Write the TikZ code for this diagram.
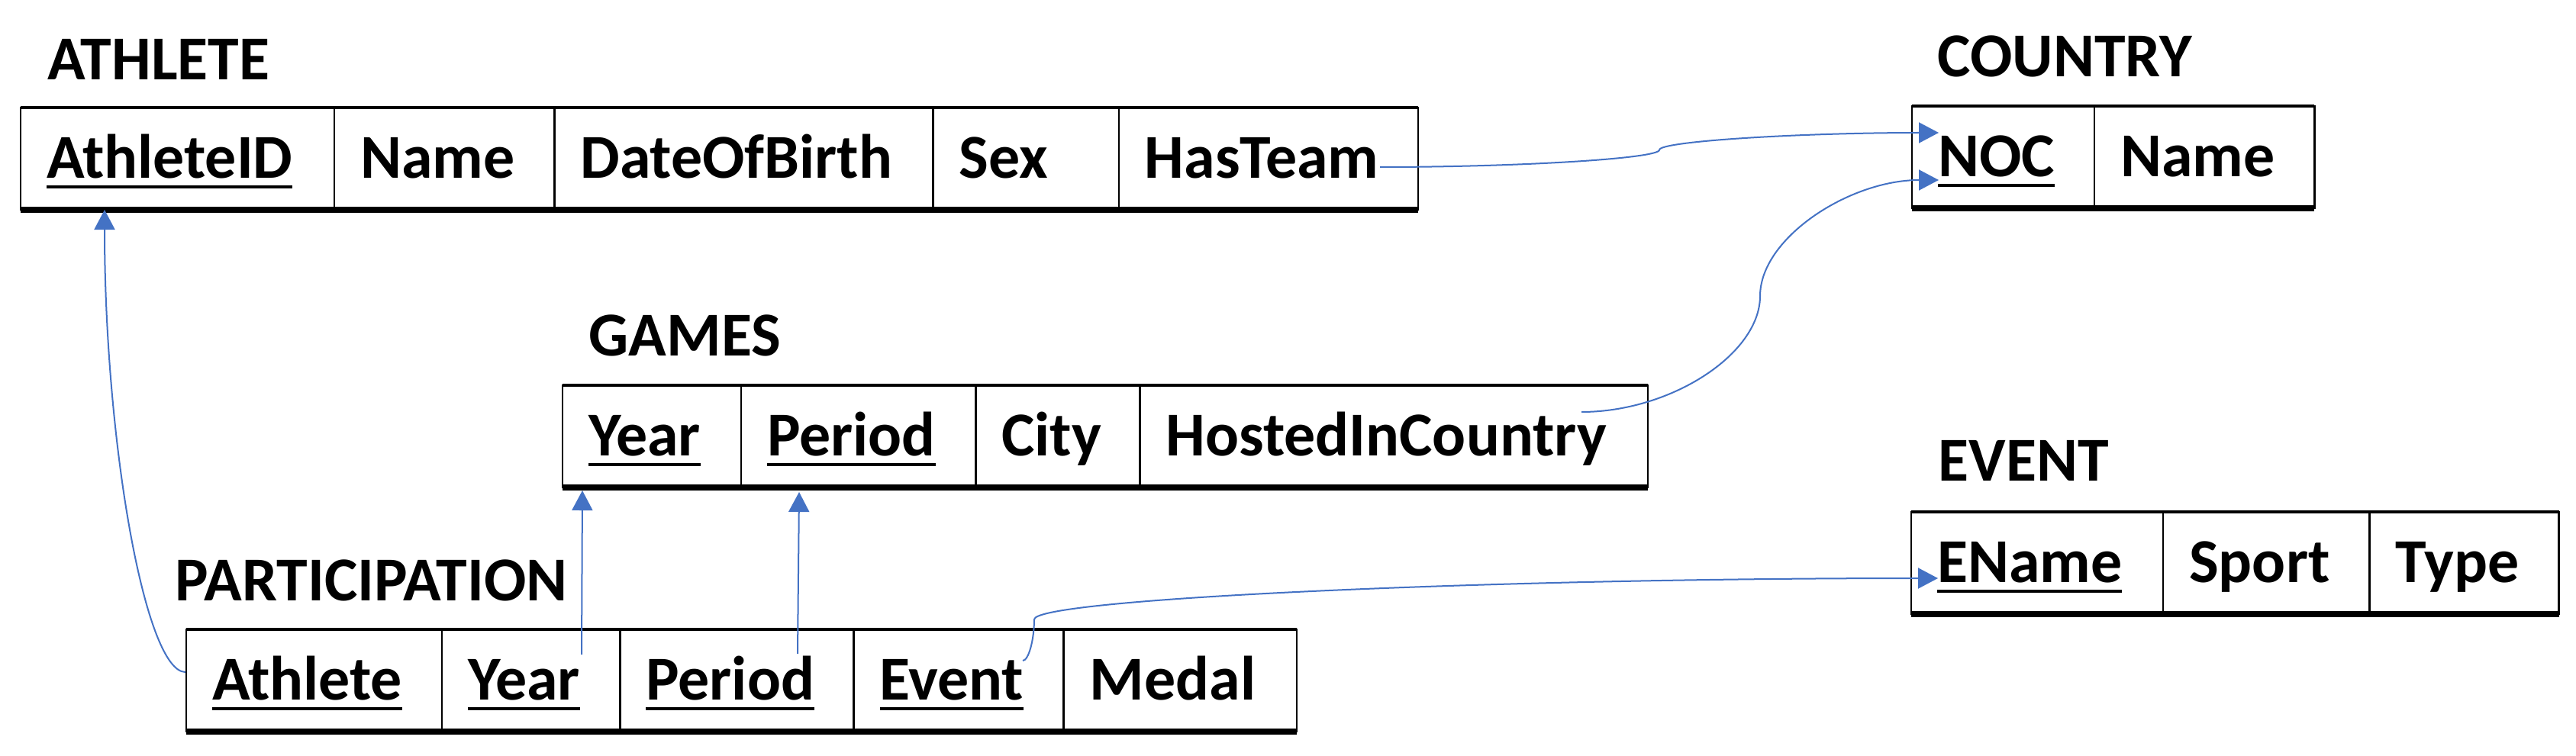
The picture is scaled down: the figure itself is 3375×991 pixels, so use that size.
\documentclass[tikz,border=0pt]{standalone}
\usepackage{fontspec}
\setmainfont{Carlito}
\usetikzlibrary{arrows.meta,positioning,calc}
\definecolor{fkcolor}{RGB}{68,114,196}
\newcommand{\entfont}{\fontsize{23.3pt}{27pt}\selectfont\bfseries}
\newsavebox{\pkbox}
\newcommand{\pk}[1]{\sbox{\pkbox}{#1}\rlap{\rule[-0.14cm]{\wd\pkbox}{0.04cm}}\usebox{\pkbox}}

\begin{document}
\begin{tikzpicture}[
	x=0.01cm, y=-0.01cm,
	cell/.style={
		draw,
		line width=0.025cm,
		outer sep=0pt,
		inner xsep=0.34cm,
		inner ysep=0pt,
		text width=#1,
		align=left,
		minimum height=1.34cm,
		text height=0.5cm,
		text depth=0cm,
		font=\entfont
	},
	title/.style={
		anchor=base west,
		inner sep=0pt,
		font=\entfont
	},
	topedge/.style={draw, line width=0.04cm},
	botedge/.style={draw, line width=0.08cm},
	fk/.style={
		draw=fkcolor,
		line width=0.02cm,
		-{Triangle[length=0.26cm,width=0.27cm]}
	},
	curve2/.style={
		to path={let \p1=(\tikztostart), \p2=(\tikztotarget) in
			.. controls ({(\x1+\x2)/2},\y1) and (\x2,{(\y1+\y2)/2}) .. (\tikztotarget)}
	},
	curve3/.style={
		to path={let \p1=(\tikztostart), \p2=(\tikztotarget),
			\p3=({\x1+(\x2-\x1)*#1},{(\y1+\y2)/2}) in
			.. controls ({(\x1+\x3)/2},\y1) and (\x3,{(3*\y1+\y2)/4}) .. (\p3)
			.. controls (\x3,{(\y1+3*\y2)/4}) and ({(\x3+\x2)/2},\y2) .. (\tikztotarget)}
	},
	curve3/.default=0.5
	]
	\useasboundingbox (0,0) rectangle (3375,991);
	
	% ATHLETE
	\node[title] (athlete-t) at (62,105) {ATHLETE};
	\node[cell=3.43cm, anchor=north west] (ath-id) at (27,141) {\pk{AthleteID}};
	\node[cell=2.20cm, right=0pt of ath-id] (ath-name) {Name};
	\node[cell=4.28cm, right=0pt of ath-name] (ath-dob) {DateOfBirth};
	\node[cell=1.75cm, right=0pt of ath-dob] (ath-sex) {Sex};
	\node[cell=3.24cm, right=0pt of ath-sex] (ath-team) {HasTeam};
	\draw[topedge] (ath-id.north west) -- (ath-team.north east);
	\draw[botedge] (ath-id.south west) -- (ath-team.south east);
	
	% COUNTRY
	\node[title] (country-t) at (2538,101) {COUNTRY};
	\node[cell=1.71cm, anchor=north west] (c-noc) at (2505,139) {\pk{NOC}};
	\node[cell=2.20cm, right=0pt of c-noc] (c-name) {Name};
	\draw[topedge] (c-noc.north west) -- (c-name.north east);
	\draw[botedge] (c-noc.south west) -- (c-name.south east);
	
	% GAMES
	\node[title] (games-t) at (771,466) {GAMES};
	\node[cell=1.66cm, anchor=north west] (g-year) at (737,505) {\pk{Year}};
	\node[cell=2.39cm, right=0pt of g-year] (g-period) {\pk{Period}};
	\node[cell=1.47cm, right=0pt of g-period] (g-city) {City};
	\node[cell=5.97cm, right=0pt of g-city] (g-host) {HostedInCountry};
	\draw[topedge] (g-year.north west) -- (g-host.north east);
	\draw[botedge] (g-year.south west) -- (g-host.south east);
	
	% EVENT
	\node[title] (event-t) at (2539,630) {EVENT};
	\node[cell=2.62cm, anchor=north west] (ev-name) at (2504,671) {\pk{EName}};
	\node[cell=2.02cm, right=0pt of ev-name] (ev-sport) {Sport};
	\node[cell=1.80cm, right=0pt of ev-sport] (ev-type) {Type};
	\draw[topedge] (ev-name.north west) -- (ev-type.north east);
	\draw[botedge] (ev-name.south west) -- (ev-type.south east);
	
	% PARTICIPATION
	\node[title] (part-t) at (229,787) {PARTICIPATION};
	\node[cell=2.67cm, anchor=north west] (pa-ath) at (244,825) {\pk{Athlete}};
	\node[cell=1.65cm, right=0pt of pa-ath] (pa-year) {\pk{Year}};
	\node[cell=2.38cm, right=0pt of pa-year] (pa-period) {\pk{Period}};
	\node[cell=2.07cm, right=0pt of pa-period] (pa-event) {\pk{Event}};
	\node[cell=2.37cm, right=0pt of pa-event] (pa-medal) {Medal};
	\draw[topedge] (pa-ath.north west) -- (pa-medal.north east);
	\draw[botedge] (pa-ath.south west) -- (pa-medal.south east);
	
	% Connector ends
	\coordinate (team-out) at (1808,219);
	\coordinate (noc-in1) at (2540,174);
	\coordinate (host-out) at (2072,540);
	\coordinate (noc-in2) at (2540,236);
	\coordinate (ath-out) at (243,881);
	\coordinate (athid-in) at (137,275);
	\coordinate (year-out) at (762,858);
	\coordinate (year-in) at (763,643);
	\coordinate (period-out) at (1045,857);
	\coordinate (period-in) at (1047,645);
	\coordinate (event-out) at (1340,866);
	\coordinate (ename-in) at (2539,758);
	
	% Foreign keys
	\draw[fk] (team-out) to[curve3] (noc-in1);
	\draw[fk] (host-out) to[curve3] (noc-in2);
	\draw[fk] (ath-out) to[curve2] (athid-in);
	\draw[fk] (year-out) -- (year-in);
	\draw[fk] (period-out) -- (period-in);
	\draw[fk] (event-out) to[curve3=0.0125] (ename-in);
	
\end{tikzpicture}
\end{document}
